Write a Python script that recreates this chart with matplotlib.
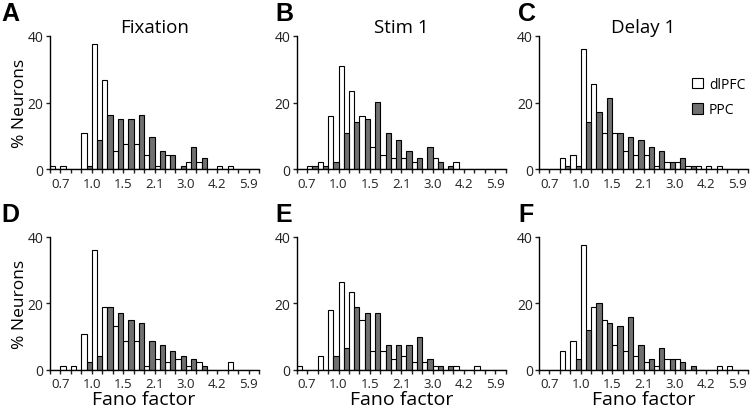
import matplotlib
matplotlib.use("Agg")
import matplotlib.pyplot as plt
from matplotlib.patches import Patch

plt.rcParams['font.family'] = ['Open Sans', 'DejaVu Sans']

# bin index 0..19 (log-spaced fano factor bins), % of neurons
tick_labels = ['0.7', '1.0', '1.5', '2.1', '3.0', '4.2', '5.9']
label_edges = [1, 4, 7, 10, 13, 16, 19]
n_bins = 20

titles = ['Fixation', 'Stim 1', 'Delay 1', '', '', '']
letters = ['A', 'B', 'C', 'D', 'E', 'F']

dlpfc_A = [1, 1, 0, 10.8, 37.5, 26.9, 5.5, 7.6, 7.6, 4.2, 1, 4.2, 0, 2.2, 2.2, 0, 1, 1, 0, 0]
ppc_A   = [0, 0, 0, 1, 8.6, 16.2, 15.1, 15.1, 16.2, 9.6, 5.5, 4.2, 1, 6.5, 3.2, 0, 0, 0, 0, 0]
dlpfc_B = [0, 1, 2.2, 16, 31, 23.5, 16, 6.5, 4.2, 3.2, 3.2, 2.2, 0, 3.2, 0, 2.2, 0, 0, 0, 0]
ppc_B   = [0, 1, 1, 2.2, 10.8, 14, 15, 20.3, 10.8, 8.6, 5.5, 3.2, 6.5, 2.2, 1, 0, 0, 0, 0, 0]
dlpfc_C = [0, 0, 3.2, 4.2, 36, 25.5, 10.8, 10.8, 5.5, 4.2, 4.2, 1, 2.2, 2.2, 1, 1, 1, 1, 0, 0]
ppc_C   = [0, 0, 1, 1, 14, 17, 21.3, 10.8, 9.7, 8.6, 6.5, 5.5, 2.2, 3.2, 1, 0, 0, 0, 0, 0]
dlpfc_D = [0, 1, 1, 10.8, 36, 19, 13, 8.6, 8.6, 1, 3.2, 2.2, 3.2, 1, 2.2, 0, 0, 2.2, 0, 0]
ppc_D   = [0, 0, 0, 2.2, 4.2, 19, 17, 15, 14, 8.6, 7.5, 5.5, 4.2, 3.2, 1, 0, 0, 0, 0, 0]
dlpfc_E = [1, 0, 4.2, 18, 26.5, 23.5, 15, 5.5, 5.5, 3.2, 4.2, 2.2, 2.2, 1, 0, 1, 0, 1, 0, 0]
ppc_E   = [0, 0, 0, 4.2, 6.5, 19, 17, 17, 7.5, 7.5, 7.5, 9.7, 3.2, 1, 1, 0, 0, 0, 0, 0]
dlpfc_F = [0, 0, 5.5, 8.6, 37.5, 19, 15, 7.5, 5.5, 4.2, 2.2, 1, 3.2, 3.2, 0, 0, 0, 1, 1, 0]
ppc_F   = [0, 0, 0, 3.2, 12, 20, 14, 13, 16, 7.5, 3.2, 6.5, 3.2, 2.2, 1, 0, 0, 0, 0, 0]

dlpfc = [dlpfc_A, dlpfc_B, dlpfc_C, dlpfc_D, dlpfc_E, dlpfc_F]
ppc = [ppc_A, ppc_B, ppc_C, ppc_D, ppc_E, ppc_F]

gray = '#707070'

fig = plt.figure(figsize=(7.5, 4.14), dpi=100)
lefts = [50, 296.7, 539]
tops = [37, 237.7]
W, H = 209, 133

for i in range(6):
    r, c = divmod(i, 3)
    ax = fig.add_axes([lefts[c] / 750, 1 - (tops[r] + H) / 414, W / 750, H / 414])
    bins = list(range(n_bins))
    ax.bar([b + 0.25 for b in bins], dlpfc[i], width=0.5, color='white',
           edgecolor='black', linewidth=0.8, zorder=2)
    ax.bar([b + 0.75 for b in bins], ppc[i], width=0.5, color=gray,
           edgecolor='black', linewidth=0.8, zorder=2)
    ax.set_xlim(0, 20)
    ax.set_ylim(0, 40)
    for s in ['top', 'right']:
        ax.spines[s].set_visible(False)
    ax.spines['left'].set_linewidth(1)
    ax.spines['bottom'].set_linewidth(1)
    ax.spines['bottom'].set_zorder(3)
    xt = list(range(0, 21))
    ax.set_xticks(xt)
    ax.set_xticklabels([tick_labels[label_edges.index(t)] if t in label_edges else '' for t in xt])
    ax.set_yticks([0, 20, 40])
    ax.tick_params(axis='x', length=3, width=1, pad=2.5, labelsize=9.5, colors='#222222')
    ax.tick_params(axis='y', length=3, width=1, pad=1.5, labelsize=10, colors='#222222')
    if c == 0:
        ax.set_ylabel('% Neurons', fontsize=12.5, labelpad=0)
    if r == 1:
        ax.set_xlabel('Fano factor', fontsize=14, labelpad=0)
        if c == 0:
            ax.xaxis.label.set_x(0.45)
    if titles[i]:
        ax.set_title(titles[i], fontsize=13.5, pad=1)
    fig.text((lefts[c] - 49) / 750 if c == 0 else (lefts[c] - 21) / 750,
             1 - (tops[r] - 23) / 414, letters[i], fontsize=18, fontweight='bold',
             ha='left', va='center', family='Liberation Sans')
    if i == 2:
        handles = [Patch(facecolor='white', edgecolor='black', linewidth=0.8, label='dlPFC'),
                   Patch(facecolor=gray, edgecolor='black', linewidth=0.8, label='PPC')]
        ax.legend(handles=handles, loc='upper left', bbox_to_anchor=(0.70, 0.745),
                  frameon=False, fontsize=10, handlelength=0.75, handleheight=0.75,
                  handletextpad=0.45, labelspacing=0.75, borderpad=0)

fig.savefig('out.png', dpi=100)
